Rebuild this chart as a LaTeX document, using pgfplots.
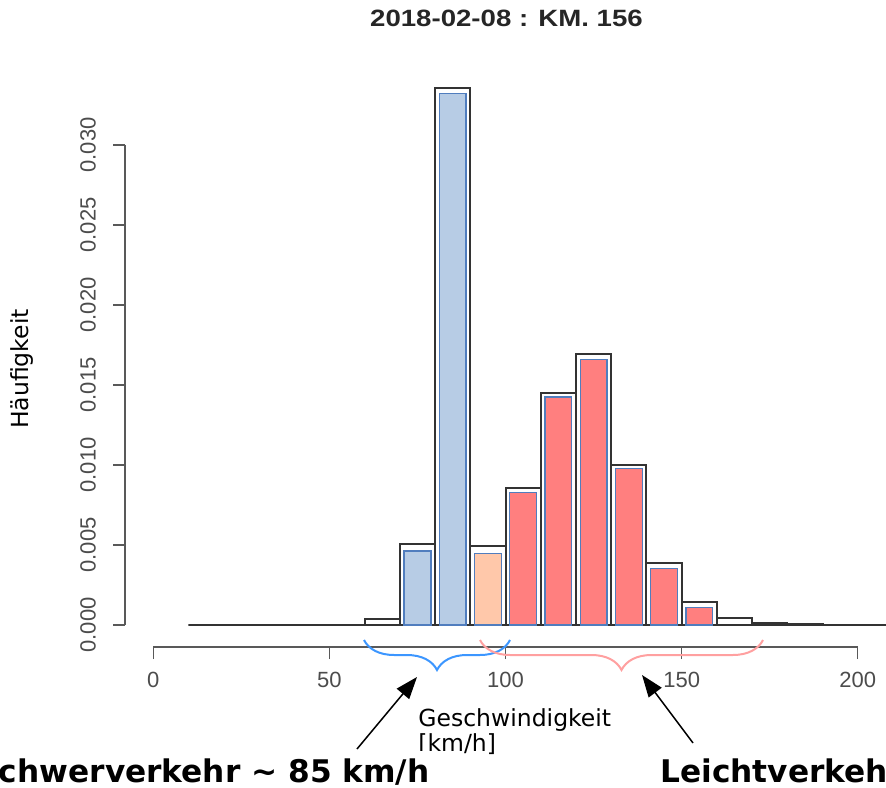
\documentclass[border=0pt]{standalone}
\usepackage{graphicx}
\usepackage{pgfplots}
\pgfplotsset{compat=1.18}
\usepackage{fontspec}
\setmainfont{Liberation Sans}
\newfontfamily\dejavu{DejaVu Sans}
\usetikzlibrary{arrows.meta,decorations.pathreplacing}

\definecolor{heavyfill}{RGB}{183,204,229}
\definecolor{mixfill}{RGB}{255,200,170}
\definecolor{lightfill}{RGB}{255,127,127}
\definecolor{baredge}{RGB}{80,125,190}
\definecolor{braceblue}{RGB}{60,150,255}
\definecolor{bracered}{RGB}{255,160,160}

\begin{document}
\begin{tikzpicture}[x=0.5pt,y=0.5pt]
\useasboundingbox (0,0) rectangle (886,787);
\clip (0,0) rectangle (886,787);
\begin{axis}[
  at={(62.5pt,70pt)}, anchor=south west,
  scale only axis, width=380.5pt, height=290.4pt,
  xmin=-8, xmax=208, ymin=-0.001375, ymax=0.034925,
  axis line style={draw=none},
  xtick={0,50,100,150,200},
  ytick={0,0.005,0.010,0.015,0.020,0.025,0.030},
  xtick pos=left, ytick pos=left, tick align=outside,
  major tick length=6pt,
  tick style={black!65, line width=0.6pt},
  scaled y ticks=false,
  /pgf/number format/assume math mode=true,
  ticklabel style={font=\fontsize{11}{13}\selectfont, text=black!70},
  yticklabel style={rotate=90, anchor=south,
    /pgf/number format/fixed, /pgf/number format/fixed zerofill,
    /pgf/number format/precision=3},
  xticklabel shift=3pt, yticklabel shift=5pt,
  clip=false,
]
% total speed distribution (10 km/h bins)
\addplot[ybar interval, fill=white, draw=black!80, line width=1pt]
  coordinates {(10,0) (20,0) (30,0) (40,0) (50,0) (60,0.00035) (70,0.00504)
  (80,0.03356) (90,0.00492) (100,0.00856) (110,0.0145) (120,0.01694)
  (130,0.0100) (140,0.00386) (150,0.00146) (160,0.00042) (170,0.00015)
  (180,0.00005) (190,0) (200,0) (210,0)};
% heavy traffic
\addplot[ybar, bar width=7.6, bar shift=0pt, fill=heavyfill, draw=baredge, line width=0.7pt]
  coordinates {(75,0.00462) (85,0.03323)};
% overlap bin
\addplot[ybar, bar width=7.6, bar shift=0pt, fill=mixfill, draw=baredge, line width=0.7pt]
  coordinates {(95,0.00448)};
% light traffic
\addplot[ybar, bar width=7.6, bar shift=0pt, fill=lightfill, draw=baredge, line width=0.7pt]
  coordinates {(105,0.0083) (115,0.01425) (125,0.0166) (135,0.0098) (145,0.00354) (155,0.00108)};
% axis lines over the tick range only
\draw[black!65, line width=0.6pt] (axis cs:0,-0.001375) -- (axis cs:200,-0.001375);
\draw[black!65, line width=0.6pt] (axis cs:-8,0) -- (axis cs:-8,0.03);
\end{axis}

% title
\node[font=\bfseries\fontsize{11.8}{13}\selectfont, text=black!85] at (506.5,769)
  {\scalebox{1.17}[1]{2018-02-08 : KM. 156}};

% braces below the axis
\draw[braceblue, line width=1pt, decorate, decoration={brace, mirror, amplitude=15pt}]
  (364,147) -- (510,147);
\draw[bracered, line width=1pt, decorate, decoration={brace, mirror, amplitude=15pt}]
  (480,147) -- (763,147);

% labels
\node[font=\dejavu\fontsize{11.75}{14}\selectfont, rotate=90] at (22,418) {Häufigkeit};
\node[font=\dejavu\fontsize{11.75}{14}\selectfont, anchor=base west, inner sep=0pt] at (418,61) {Geschwindigkeit};
\node[font=\dejavu\fontsize{11.75}{14}\selectfont, anchor=base west, inner sep=0pt] at (418,36) {[km/h]};

% arrows
\draw[line width=0.75pt, -{Triangle[length=11pt, width=8pt]}] (357,38) -- (417,110);
\draw[line width=0.75pt, -{Triangle[length=11pt, width=8pt]}] (693,44) -- (642,112);

\node[font=\dejavu\bfseries\fontsize{15.6}{18}\selectfont, fill=white, inner sep=3.5pt, anchor=base east] at (437,5)
  {Schwerverkehr \textasciitilde{} 85 km/h};
\node[font=\dejavu\bfseries\fontsize{15.6}{18}\selectfont, fill=white, inner sep=3.5pt, anchor=base west] at (653,5)
  {Leichtverkehr};
\end{tikzpicture}
\end{document}
